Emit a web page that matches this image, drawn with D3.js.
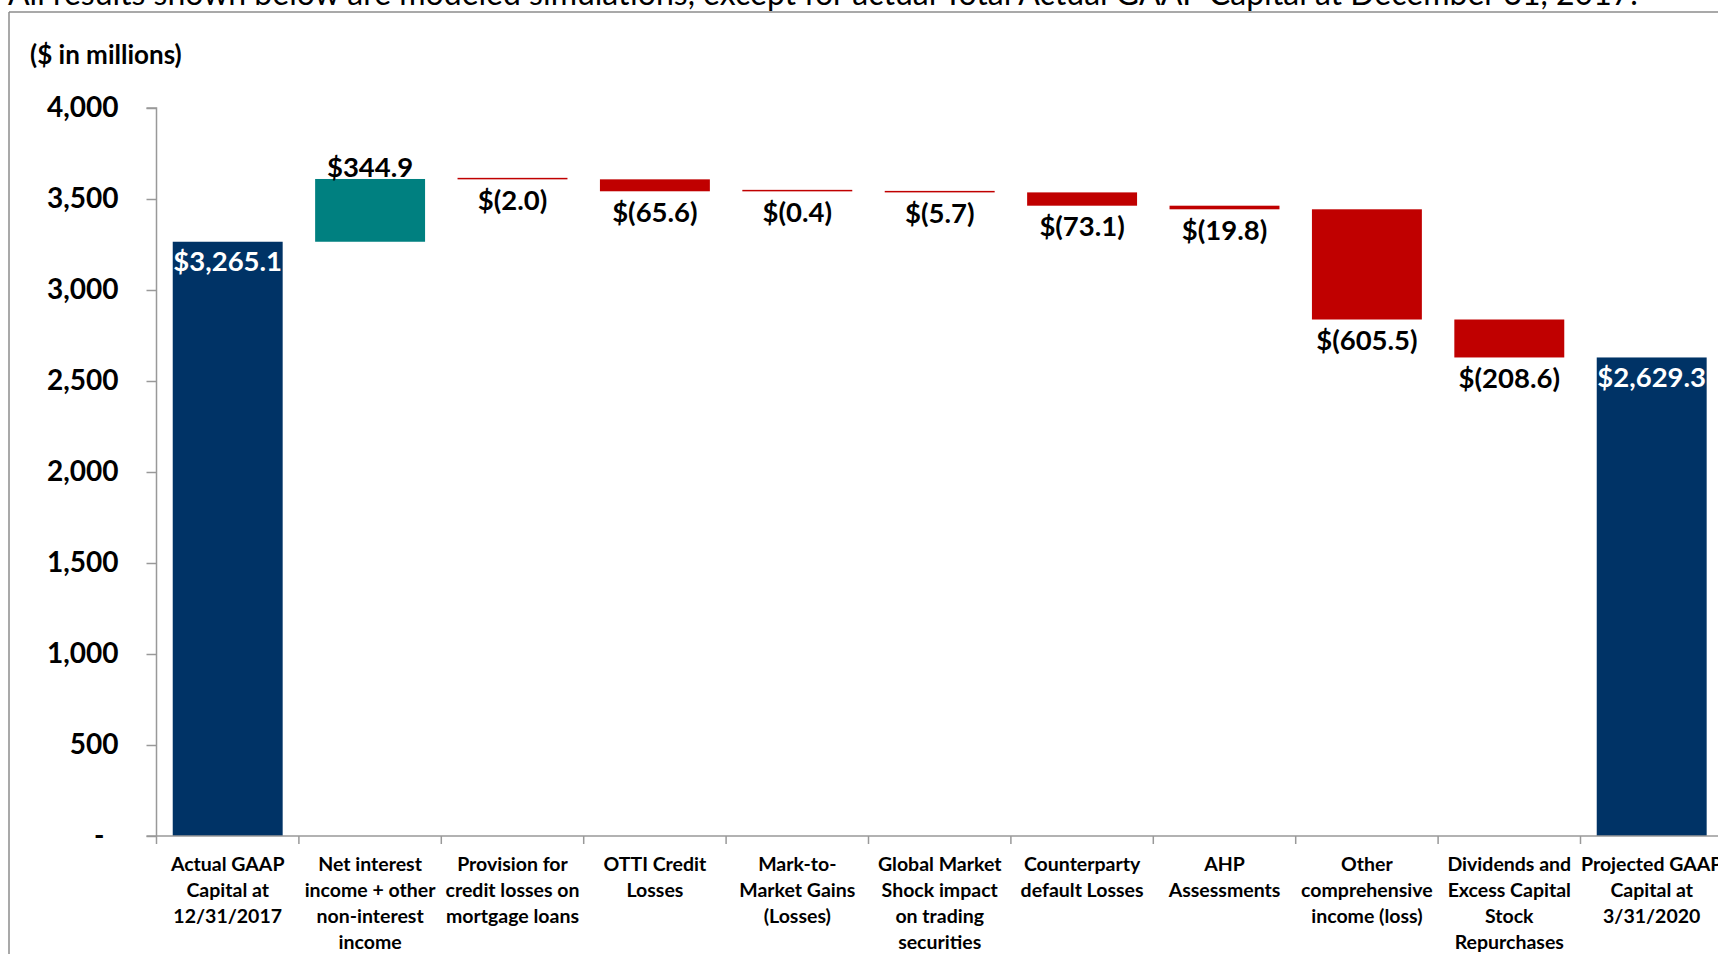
<!DOCTYPE html>
<html>
<head>
<meta charset="utf-8">
<script src="https://cdn.jsdelivr.net/npm/d3@7"></script>
<style>
  html, body { margin: 0; padding: 0; background: #fff; overflow: hidden; }
  svg { display: block; }
  text { font-family: Lato, "Open Sans", sans-serif; }
</style>
</head>
<body>
<svg id="chart" width="1718" height="954"></svg>
<script>
// ---- data ----
const categories = [
  "Actual GAAP\nCapital at\n12/31/2017",
  "Net interest\nincome + other\nnon-interest\nincome",
  "Provision for\ncredit losses on\nmortgage loans",
  "OTTI Credit\nLosses",
  "Mark-to-\nMarket Gains\n(Losses)",
  "Global Market\nShock impact\non trading\nsecurities",
  "Counterparty\ndefault Losses",
  "AHP\nAssessments",
  "Other\ncomprehensive\nincome (loss)",
  "Dividends and\nExcess Capital\nStock\nRepurchases",
  "Projected GAAP\nCapital at\n3/31/2020"
];
const values = [3265.1, 344.9, -2.0, -65.6, -0.4, -5.7, -73.1, -19.8, -605.5, -208.6, 2629.3];
const kinds  = ["total", "delta", "delta", "delta", "delta", "delta", "delta", "delta", "delta", "delta", "total"];
const yTicks = [0, 500, 1000, 1500, 2000, 2500, 3000, 3500, 4000];
const yTitle = "($ in millions)";
const topNote = "All results shown below are modeled simulations, except for actual Total Actual GAAP Capital at December 31, 2017.";

// ---- layout ----
const svg = d3.select("#chart");
const W = 1718, H = 954;
const x0 = 156.5, yBase = 836, yTop = 108;
const step = 142.4;

const x = d3.scaleBand()
  .domain(categories)
  .range([x0, x0 + step * categories.length])
  .paddingInner(0.228)
  .paddingOuter(0.114);
const y = d3.scaleLinear().domain([0, 4000]).range([yBase, yTop]);

const colors = { total: "#003366", up: "#008080", down: "#C00000" };
const fmt = d3.format(",.1f");
const labelOf = v => v < 0 ? "$(" + fmt(-v) + ")" : "$" + fmt(v);

// build waterfall segments
let running = 0;
const bars = values.map((v, i) => {
  let lo, hi, type;
  if (kinds[i] === "total") { lo = 0; hi = v; running = v; type = "total"; }
  else {
    const start = running; running = running + v;
    lo = Math.min(start, running); hi = Math.max(start, running);
    type = v >= 0 ? "up" : "down";
  }
  return { cat: categories[i], v, lo, hi, type };
});

// frame lines
svg.append("line").attr("x1", 9).attr("x2", W).attr("y1", 12).attr("y2", 12)
  .attr("stroke", "#8c8c8c").attr("stroke-width", 1.5);
svg.append("line").attr("x1", 9).attr("x2", 9).attr("y1", 12).attr("y2", H)
  .attr("stroke", "#8c8c8c").attr("stroke-width", 1.5);

// top note (cut off at top)
svg.append("text").attr("x", 8).attr("y", 5)
  .attr("font-size", 32).attr("fill", "#000")
  .text(topNote);

// y title
svg.append("text").attr("x", 30).attr("y", 55).attr("dy", "0.35em")
  .attr("font-size", 26).attr("font-weight", "bold").text(yTitle);

// bars
svg.append("g").selectAll("rect").data(bars).join("rect")
  .attr("x", d => x(d.cat))
  .attr("width", x.bandwidth())
  .attr("y", d => Math.min(y(d.hi), y(d.lo) - 1.5))
  .attr("height", d => Math.max(y(d.lo) - y(d.hi), 1.5))
  .attr("fill", d => colors[d.type]);

// y axis
const yAxis = d3.axisLeft(y).tickValues(yTicks)
  .tickFormat(d => d === 0 ? "-" : d3.format(",")(d))
  .tickSize(10).tickPadding(28);
const gy = svg.append("g").attr("transform", `translate(${x0},0)`).call(yAxis);
gy.attr("font-family", null).attr("font-size", null);
gy.select(".domain").attr("stroke", "#999").attr("stroke-width", 1.5).attr("d", `M-10,${yTop}H0V${yBase}`);
gy.selectAll(".tick line").attr("stroke", "#999").attr("stroke-width", 1.5);
gy.selectAll(".tick text").attr("font-size", 28).attr("font-weight", "bold").attr("fill", "#000")
  .attr("dx", d => d === 0 ? -14 : 0);

// x axis
const xEdges = d3.range(categories.length + 1).map(i => x0 + i * x.step());
svg.append("line").attr("x1", x0 - 10).attr("x2", W).attr("y1", yBase).attr("y2", yBase)
  .attr("stroke", "#999").attr("stroke-width", 1.5);
svg.append("g").selectAll("line").data(xEdges).join("line")
  .attr("x1", d => d).attr("x2", d => d).attr("y1", yBase).attr("y2", yBase + 8)
  .attr("stroke", "#999").attr("stroke-width", 1.5);

// category labels
const cl = svg.append("g").selectAll("text").data(categories).join("text")
  .attr("x", d => x(d) + x.bandwidth() / 2)
  .attr("y", 871)
  .attr("text-anchor", "middle")
  .attr("font-size", 19.5).attr("font-weight", "bold").attr("fill", "#000");
cl.selectAll("tspan").data(d => d.split("\n")).join("tspan")
  .attr("x", function() { return d3.select(this.parentNode).attr("x"); })
  .attr("dy", (d, i) => i === 0 ? 0 : 26)
  .text(d => d);

// data labels
svg.append("g").selectAll("text").data(bars).join("text")
  .attr("x", d => x(d.cat) + x.bandwidth() / 2)
  .attr("y", d => {
    if (d.type === "total") return y(d.hi) + 20;
    if (d.type === "up") return y(d.hi) - 12;
    return y(d.lo) + 21;
  })
  .attr("dy", "0.35em")
  .attr("text-anchor", "middle")
  .attr("font-size", 27.5).attr("font-weight", "bold")
  .attr("fill", d => d.type === "total" ? "#fff" : "#000")
  .text(d => labelOf(d.v));
</script>
</body>
</html>
